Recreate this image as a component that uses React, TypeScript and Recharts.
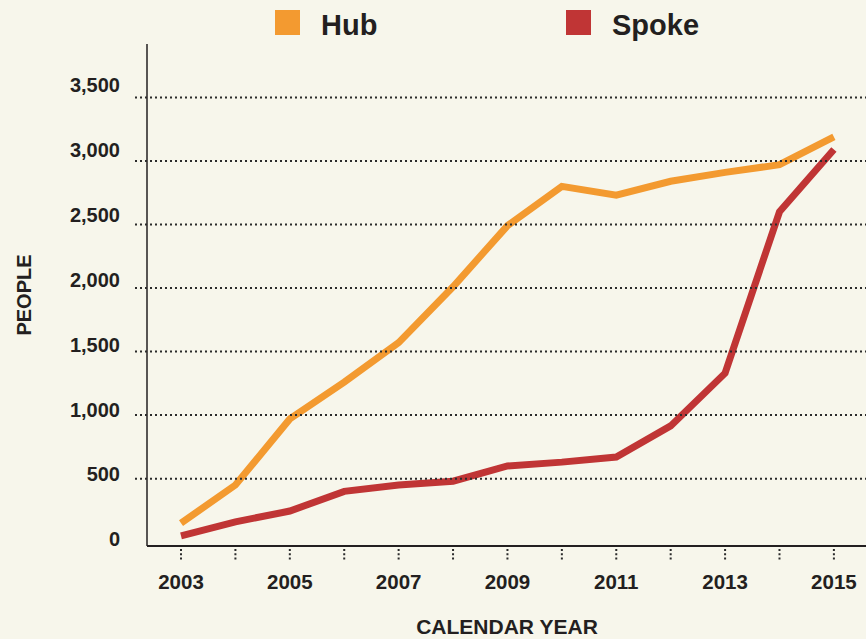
import { LineChart, Line, XAxis, YAxis, Legend, Label } from 'recharts'

const years = [2003, 2004, 2005, 2006, 2007, 2008, 2009, 2010, 2011, 2012, 2013, 2014, 2015]
const hub = [150, 450, 970, 1260, 1570, 2010, 2490, 2800, 2730, 2840, 2910, 2970, 3190]
const spoke = [50, 160, 245, 400, 450, 480, 600, 630, 670, 915, 1330, 2600, 3090]
const yTicks = [0, 500, 1000, 1500, 2000, 2500, 3000, 3500]
const xLabels = [2003, 2005, 2007, 2009, 2011, 2013, 2015]

const data = years.map((year, i) => ({ year, hub: hub[i], spoke: spoke[i] }))

const INK = '#231f20'
const BG = '#f7f6eb'
const FONT = '"Liberation Sans", Arial, Helvetica, sans-serif'

// labels sit a little off their gridlines: just under at the bottom, above at the top
const YTick = ({ y, payload }: any) => (
  <g>
    {payload.value !== 0 && (
      <line x1={135} x2={866} y1={y} y2={y} stroke="#2b2b2b" strokeWidth={2} strokeDasharray="2 3" />
    )}
    <text
      x={120}
      y={y + 4 - (9 * payload.value) / 3500}
      textAnchor="end"
      fill={INK}
      fontSize={20}
      fontWeight={700}
      fontFamily={FONT}
    >
      {payload.value.toLocaleString('en-US')}
    </text>
  </g>
)

const XTick = ({ x, payload }: any) => (
  <g>
    <line x1={x} x2={x} y1={549} y2={560} stroke="#2b2b2b" strokeWidth={2} strokeDasharray="2 2.3" />
    {xLabels.includes(payload.value) && (
      <text x={x} y={589} textAnchor="middle" fill={INK} fontSize={20.5} fontWeight={700} fontFamily={FONT}>
        {payload.value}
      </text>
    )}
  </g>
)

const legendLeft = [275, 566]

const LegendContent = ({ payload }: any) => (
  <div style={{ position: 'relative', width: 866, height: 50 }}>
    {(payload || []).map((entry: any, i: number) => (
      <div key={entry.value} style={{ position: 'absolute', left: legendLeft[i], top: 10, display: 'flex', alignItems: 'center' }}>
        <div style={{ width: 25, height: 25, background: entry.color }} />
        <span
          style={{
            marginLeft: 21,
            fontSize: 29,
            fontWeight: 700,
            fontFamily: FONT,
            color: INK,
            lineHeight: '25px',
            position: 'relative',
            top: 3,
          }}
        >
          {entry.value}
        </span>
      </div>
    ))}
  </div>
)

export default function App() {
  return (
    <div style={{ position: 'absolute', left: 0, top: 0, width: 866, height: 639, background: BG }}>
      <LineChart width={866} height={639} data={data} margin={{ top: 44, right: 0, bottom: 33, left: 0 }}>
        <YAxis
          type="number"
          width={147}
          domain={[-30, 3920]}
          allowDataOverflow
          ticks={yTicks}
          interval={0}
          tickLine={false}
          axisLine={{ stroke: INK, strokeWidth: 1.5 }}
          tick={<YTick />}
        >
          <Label
            content={() => (
              <text
                x={31}
                y={295}
                transform="rotate(-90 31 295)"
                textAnchor="middle"
                fill={INK}
                fontSize={20}
                fontWeight={700}
                fontFamily={FONT}
              >
                PEOPLE
              </text>
            )}
          />
        </YAxis>
        <XAxis
          dataKey="year"
          type="number"
          domain={[2002.375, 2015.59]}
          allowDataOverflow
          ticks={years}
          interval={0}
          height={60}
          tickLine={false}
          axisLine={{ stroke: INK, strokeWidth: 2 }}
          tick={<XTick />}
        >
          <Label
            content={() => (
              <text x={507} y={634} textAnchor="middle" fill={INK} fontSize={21} fontWeight={700} fontFamily={FONT}>
                CALENDAR YEAR
              </text>
            )}
          />
        </XAxis>
        <Legend
          layout="vertical"
          align="center"
          verticalAlign="middle"
          wrapperStyle={{ top: 0, left: 0, width: 866, height: 50 }}
          content={<LegendContent />}
        />
        <Line
          type="linear"
          dataKey="hub"
          name="Hub"
          stroke="#f39a30"
          strokeWidth={7}
          dot={false}
          activeDot={false}
          isAnimationActive={false}
        />
        <Line
          type="linear"
          dataKey="spoke"
          name="Spoke"
          stroke="#c03535"
          strokeWidth={7}
          dot={false}
          activeDot={false}
          isAnimationActive={false}
        />
      </LineChart>
    </div>
  )
}
